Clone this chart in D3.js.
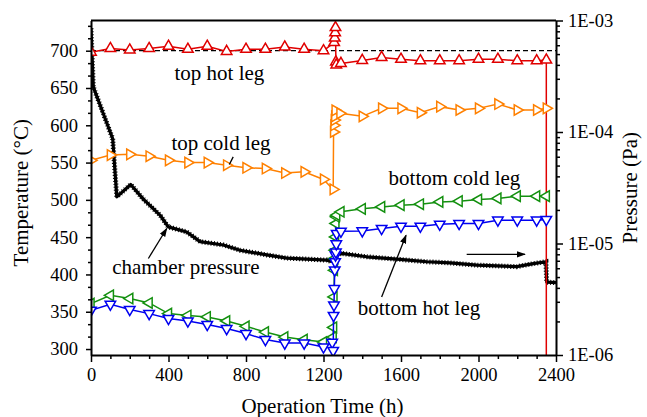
<!DOCTYPE html>
<html>
<head>
<meta charset="utf-8">
<script src="https://cdn.jsdelivr.net/npm/d3@7"></script>
<style>
  body { margin: 0; background: #fff; }
  svg text { font-family: "Liberation Serif", "Times New Roman", serif; fill: #000; }
</style>
</head>
<body>
<svg id="chart" width="647" height="417"></svg>
<script>
// ---- data ----
// top hot leg (red, up triangles); last point is the drop after shutdown
var hotTopTime = [0, 100, 200, 300, 400, 500, 600, 700, 800, 900, 1000, 1100, 1200,
  1255, 1258, 1260, 1262, 1264, 1266, 1290, 1400, 1500, 1600, 1700, 1800, 1900,
  2000, 2100, 2200, 2300, 2350, 2350];
var hotTopTemp = [698, 703, 701, 703, 706, 702, 706, 699, 702, 702, 705, 702, 700,
  711, 717, 724, 731, 685, 681, 683, 687, 691, 688.5, 686.5, 686.5, 686.5,
  688.5, 688.5, 686.5, 686.5, 687.5, 250];

// top cold leg (orange, right triangles)
var coldTopTime = [0, 100, 200, 300, 400, 500, 600, 700, 800, 900, 1000, 1100, 1200,
  1250, 1252, 1254, 1256, 1258, 1260, 1285, 1400, 1500, 1600, 1700, 1800, 1900,
  2000, 2100, 2200, 2300, 2350];
var coldTopTemp = [553, 560, 561, 558.5, 553, 550, 550, 546.5, 543, 542, 536, 537.6, 527.4,
  514, 591, 600, 607, 612, 620, 616, 612, 622.7, 622.7, 616.8, 625, 620.5,
  622.7, 628.5, 620.5, 620.5, 622.7];

// bottom cold leg (green, left triangles)
var coldBotTime = [0, 100, 200, 300, 400, 500, 600, 700, 800, 900, 1000, 1100, 1200,
  1250, 1252, 1254, 1256, 1258, 1260, 1262, 1264, 1266, 1268, 1290, 1400, 1500,
  1600, 1700, 1800, 1900, 2000, 2100, 2200, 2300, 2350];
var coldBotTemp = [361, 372, 367.7, 361.8, 347.5, 345, 343, 337.6, 330.5, 322.8, 316, 312.6, 309.4,
  316, 329, 369.8, 405.6, 421.4, 432.5, 450.3, 468.3, 477.3, 479.5, 484, 488, 490.6,
  492.9, 494.2, 497.3, 498.3, 500.5, 502, 505, 505, 505];

// bottom hot leg (blue, down triangles)
var hotBotTime = [0, 100, 200, 300, 400, 500, 600, 700, 800, 900, 1000, 1100, 1200,
  1245, 1250, 1252, 1254, 1256, 1258, 1260, 1262, 1264, 1266, 1268, 1290, 1400,
  1500, 1600, 1700, 1800, 1900, 2000, 2100, 2200, 2300, 2350];
var hotBotTemp = [352, 360, 353, 347.5, 341, 337.6, 333, 327.4, 320.7, 312.7, 308, 308, 302.7,
  309, 298, 345, 359, 381, 406, 417, 426, 430, 441, 455, 458, 458.4,
  461.6, 464.7, 464.7, 467.4, 468.3, 468.3, 472.8, 472.8, 472.8, 473.7];

// chamber pressure (black, right log axis)
var pressTime = [0, 12, 112, 133, 205, 270, 356, 399, 494, 563, 683, 769, 907, 1010,
  1216, 1242, 1260, 1294, 1423, 1595, 1733, 1853, 1991, 2197, 2283, 2348, 2352, 2400];
var pressVal = [8.5e-4, 2.53e-4, 8.7e-5, 2.62e-5, 3.38e-5, 2.5e-5, 1.8e-5, 1.41e-5, 1.27e-5,
  1.04e-5, 9.7e-6, 8.7e-6, 7.9e-6, 7.4e-6, 7.1e-6, 6.9e-6, 7.9e-6, 8.15e-6, 7.6e-6,
  7.2e-6, 6.86e-6, 6.7e-6, 6.4e-6, 6.2e-6, 6.6e-6, 6.86e-6, 4.5e-6, 4.45e-6];

// set point line
var setPointTemp = 700;

var tempTicks = [300, 350, 400, 450, 500, 550, 600, 650, 700];
var timeTicks = [0, 400, 800, 1200, 1600, 2000, 2400];
var pressTicks = [1e-6, 1e-5, 1e-4, 1e-3];

(function () {
  // ---- layout ----
  var svg = d3.select('#chart');
  var plotL = 91, plotR = 556, plotT = 20.5, plotB = 355;

  var x = d3.scaleLinear().domain([0, 2400]).range([plotL, plotR]);
  var yT = d3.scaleLinear().domain([292, 740.5]).range([plotB, plotT]);
  var yP = d3.scaleLog().domain([1e-6, 1e-3]).range([plotB, plotT]);

  var defs = svg.append('defs');
  defs.append('clipPath').attr('id', 'plot-clip')
    .append('rect')
    .attr('x', plotL).attr('y', plotT)
    .attr('width', plotR - plotL).attr('height', plotB - plotT);

  defs.append('marker')
    .attr('id', 'arrow')
    .attr('viewBox', '0 0 10 10')
    .attr('refX', 9).attr('refY', 5)
    .attr('markerWidth', 9).attr('markerHeight', 9)
    .attr('markerUnits', 'userSpaceOnUse')
    .attr('orient', 'auto')
    .append('path')
    .attr('d', 'M0,1.5 L10,5 L0,8.5 Z')
    .attr('fill', '#000');

  var plot = svg.append('g').attr('clip-path', 'url(#plot-clip)');

  // chamber pressure, thick black with a rough look
  var pressLine = d3.line()
    .x(function (d) { return x(d[0]); })
    .y(function (d) { return yP(d[1]); });
  var pressData = d3.zip(pressTime, pressVal);

  plot.append('path')
    .attr('d', pressLine(pressData))
    .attr('fill', 'none')
    .attr('stroke', '#000')
    .attr('stroke-width', 3.2)
    .attr('stroke-linejoin', 'round');
  plot.append('path')
    .attr('d', pressLine(pressData))
    .attr('fill', 'none')
    .attr('stroke', '#000')
    .attr('stroke-width', 5)
    .attr('stroke-dasharray', '1 2');

  // dashed 700 C set point
  plot.append('line')
    .attr('x1', x(0)).attr('x2', x(2400))
    .attr('y1', yT(setPointTemp)).attr('y2', yT(setPointTemp))
    .attr('stroke', '#000')
    .attr('stroke-width', 1.3)
    .attr('stroke-dasharray', '5 3');

  // temperature series
  var series = [
    { name: 'top hot leg', time: hotTopTime, temp: hotTopTemp, color: '#e00000', rotate: 0 },
    { name: 'top cold leg', time: coldTopTime, temp: coldTopTemp, color: '#ff8000', rotate: 90 },
    { name: 'bottom cold leg', time: coldBotTime, temp: coldBotTemp, color: '#13900f', rotate: -90 },
    { name: 'bottom hot leg', time: hotBotTime, temp: hotBotTemp, color: '#0000f0', rotate: 180 }
  ];

  var tempLine = d3.line()
    .x(function (d) { return x(d[0]); })
    .y(function (d) { return yT(d[1]); });

  var triangle = d3.symbol().type(d3.symbolTriangle).size(48);

  series.forEach(function (s) {
    var pts = d3.zip(s.time, s.temp);
    var g = plot.append('g');

    g.append('path')
      .attr('d', tempLine(pts))
      .attr('fill', 'none')
      .attr('stroke', s.color)
      .attr('stroke-width', 1.5);

    g.selectAll('.pt')
      .data(pts)
      .enter().append('path')
      .attr('class', 'pt')
      .attr('d', triangle)
      .attr('transform', function (d) {
        return 'translate(' + x(d[0]) + ',' + yT(d[1]) + ') rotate(' + s.rotate + ')';
      })
      .attr('fill', '#fff')
      .attr('stroke', s.color)
      .attr('stroke-width', 1.5);
  });

  // ---- axes ----
  function styleAxis(g) {
    g.select('.domain').attr('stroke-width', 2);
    g.selectAll('.tick line').attr('stroke-width', 1.5);
    g.selectAll('text').style('font-size', '18.5px').style('font-family', '"Liberation Serif", serif');
  }
  function minorAxis(g) {
    g.select('.domain').remove();
    g.selectAll('line').attr('stroke-width', 1.5);
  }

  // left temperature axis, two minor ticks per 50
  var tempMinor = d3.range(0, 27).map(function (k) { return 300 + k * 50 / 3; })
    .filter(function (v, k) { return k % 3 !== 0 && v <= 740; });

  svg.append('g')
    .attr('transform', 'translate(' + plotL + ',0)')
    .call(d3.axisLeft(yT).tickValues(tempMinor).tickSize(3).tickSizeOuter(0).tickFormat(''))
    .call(minorAxis);

  svg.append('g')
    .attr('transform', 'translate(' + plotL + ',0)')
    .call(d3.axisLeft(yT).tickValues(tempTicks).tickSize(5).tickPadding(8).tickSizeOuter(0))
    .call(styleAxis);

  // bottom time axis, minor every 100 h
  var timeMinor = d3.range(100, 2400, 100).filter(function (v) { return v % 400 !== 0; });

  svg.append('g')
    .attr('transform', 'translate(0,' + plotB + ')')
    .call(d3.axisBottom(x).tickValues(timeMinor).tickSize(4).tickSizeOuter(0).tickFormat(''))
    .call(minorAxis);

  svg.append('g')
    .attr('transform', 'translate(0,' + plotB + ')')
    .call(d3.axisBottom(x).tickValues(timeTicks).tickSize(7).tickPadding(6).tickSizeOuter(0)
      .tickFormat(d3.format('d')))
    .call(styleAxis);

  // right pressure axis (log)
  var pressMinor = [];
  [-6, -5, -4].forEach(function (e) {
    for (var m = 2; m <= 9; m++) pressMinor.push(m * Math.pow(10, e));
  });

  svg.append('g')
    .attr('transform', 'translate(' + plotR + ',0)')
    .call(d3.axisRight(yP).tickValues(pressMinor).tickSize(4).tickSizeOuter(0).tickFormat(''))
    .call(minorAxis);

  svg.append('g')
    .attr('transform', 'translate(' + plotR + ',0)')
    .call(d3.axisRight(yP).tickValues(pressTicks).tickSize(7).tickPadding(5).tickSizeOuter(0)
      .tickFormat(function (d) {
        var e = -Math.round(Math.log10(d));
        return '1E-' + (e < 10 ? '0' : '') + e;
      }))
    .call(styleAxis);

  // top frame line
  svg.append('line')
    .attr('x1', plotL).attr('x2', plotR)
    .attr('y1', plotT).attr('y2', plotT)
    .attr('stroke', '#000')
    .attr('stroke-width', 2);

  // axis titles
  svg.append('text')
    .attr('x', (plotL + plotR) / 2 - 1).attr('y', 413)
    .attr('text-anchor', 'middle')
    .style('font-size', '21px')
    .text('Operation Time (h)');

  svg.append('text')
    .attr('transform', 'translate(28,' + ((plotT + plotB) / 2 + 5) + ') rotate(-90)')
    .attr('text-anchor', 'middle')
    .style('font-size', '21px')
    .text('Temperature (\u00B0C)');

  svg.append('text')
    .attr('transform', 'translate(637,' + ((plotT + plotB) / 2) + ') rotate(-90)')
    .attr('text-anchor', 'middle')
    .style('font-size', '21px')
    .text('Pressure (Pa)');

  // ---- annotations (in time / temperature units) ----
  var labels = [
    { text: 'top hot leg', t: 663, v: 660.7 },
    { text: 'top cold leg', t: 671, v: 566.7 },
    { text: 'chamber pressure', t: 490, v: 400.3 },
    { text: 'bottom cold leg', t: 1876, v: 519.7 },
    { text: 'bottom hot leg', t: 1693, v: 345.2 }
  ];

  svg.selectAll('.label')
    .data(labels)
    .enter().append('text')
    .attr('class', 'label')
    .attr('x', function (d) { return x(d.t); })
    .attr('y', function (d) { return yT(d.v); })
    .attr('text-anchor', 'middle')
    .style('font-size', '21px')
    .text(function (d) { return d.text; });

  var arrows = [
    { t1: 296, v1: 421.4, t2: 391, v2: 461.6, head: true },
    { t1: 1500, v1: 369.8, t2: 1626, v2: 452.6, head: true },
    { t1: 1939, v1: 427, t2: 2240, v2: 427, head: true },
    { t1: 734, v1: 557.7, t2: 714, v2: 547.5, head: false }
  ];

  svg.selectAll('.arrow')
    .data(arrows)
    .enter().append('line')
    .attr('class', 'arrow')
    .attr('x1', function (d) { return x(d.t1); })
    .attr('y1', function (d) { return yT(d.v1); })
    .attr('x2', function (d) { return x(d.t2); })
    .attr('y2', function (d) { return yT(d.v2); })
    .attr('stroke', '#000')
    .attr('stroke-width', 1.3)
    .attr('marker-end', function (d) { return d.head ? 'url(#arrow)' : null; });
})();
</script>
</body>
</html>
